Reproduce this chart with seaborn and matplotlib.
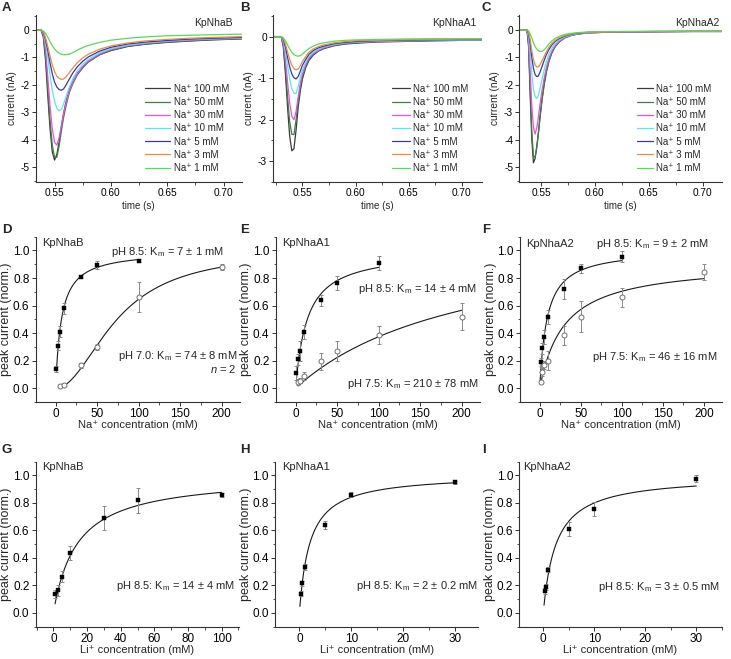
import numpy as np
import pandas as pd
import matplotlib
matplotlib.use("Agg")
import matplotlib.pyplot as plt
import seaborn as sns
from matplotlib.lines import Line2D
from matplotlib.ticker import MultipleLocator, FormatStrFormatter

# ---------------- data ----------------
conc_labels = ["Na\u207a 100 mM", "Na\u207a 50 mM", "Na\u207a 30 mM", "Na\u207a 10 mM",
               "Na\u207a 5 mM", "Na\u207a 3 mM", "Na\u207a 1 mM"]
trace_colors = ["#3a3a3a", "#3f7f3f", "#e84fe8", "#5ce6e6", "#3838a8", "#f08a40", "#5ad85a"]

# Panel A (KpNhaB) transient currents
time_A = [0.5335, 0.5380, 0.5400, 0.5420, 0.5440, 0.5460, 0.5480, 0.5500, 0.5520, 0.5540,
          0.5560, 0.5580, 0.5600, 0.5630, 0.5660, 0.5700, 0.5750, 0.5800, 0.5900, 0.6000,
          0.6150, 0.6300, 0.6500, 0.6700, 0.6900, 0.7165]
A_100 = [0, 0, -0.25, -1.1, -2.4, -3.6, -4.45, -4.75, -4.55, -4.1, -3.55, -3.05, -2.65, -2.2,
         -1.9, -1.6, -1.35, -1.15, -0.9, -0.75, -0.6, -0.52, -0.45, -0.4, -0.36, -0.32]
A_50 = [0, 0, -0.2, -0.9, -2.1, -3.3, -4.2, -4.65, -4.65, -4.25, -3.7, -3.2, -2.8, -2.3,
        -1.98, -1.65, -1.38, -1.17, -0.9, -0.74, -0.59, -0.51, -0.44, -0.39, -0.35, -0.32]
A_30 = [0, 0, -0.15, -0.7, -1.7, -2.8, -3.6, -4.1, -4.2, -3.95, -3.5, -3.05, -2.7, -2.25,
        -1.93, -1.6, -1.33, -1.13, -0.87, -0.71, -0.57, -0.49, -0.42, -0.37, -0.33, -0.3]
A_10 = [0, 0, -0.1, -0.45, -1.0, -1.65, -2.2, -2.6, -2.85, -2.95, -2.9, -2.7, -2.45, -2.1,
        -1.8, -1.5, -1.25, -1.07, -0.83, -0.68, -0.55, -0.47, -0.4, -0.35, -0.32, -0.29]
A_5 = [0, 0, -0.08, -0.35, -0.75, -1.2, -1.6, -1.9, -2.08, -2.17, -2.2, -2.15, -2.02, -1.8,
       -1.58, -1.35, -1.14, -0.98, -0.77, -0.63, -0.51, -0.44, -0.38, -0.33, -0.3, -0.27]
A_3 = [0, 0, -0.06, -0.28, -0.6, -0.95, -1.27, -1.52, -1.68, -1.76, -1.8, -1.79, -1.72, -1.56,
       -1.4, -1.2, -1.02, -0.88, -0.7, -0.58, -0.47, -0.4, -0.34, -0.3, -0.27, -0.24]
A_1 = [0, 0, -0.03, -0.12, -0.26, -0.42, -0.57, -0.69, -0.78, -0.84, -0.88, -0.9, -0.9, -0.88,
       -0.83, -0.74, -0.64, -0.56, -0.45, -0.37, -0.3, -0.25, -0.21, -0.19, -0.17, -0.15]

# Panel B (KpNhaA1)
time_B = [0.5223, 0.5300, 0.5320, 0.5340, 0.5360, 0.5380, 0.5400, 0.5420, 0.5440, 0.5460,
          0.5480, 0.5500, 0.5530, 0.5560, 0.5600, 0.5650, 0.5700, 0.5800, 0.5900, 0.6000,
          0.6200, 0.6400, 0.6700, 0.7000, 0.7189]
B_100 = [0, 0, -0.25, -0.9, -1.7, -2.4, -2.75, -2.7, -2.25, -1.7, -1.3, -1.02, -0.75, -0.58,
         -0.45, -0.35, -0.29, -0.22, -0.18, -0.16, -0.13, -0.12, -0.1, -0.09, -0.09]
B_50 = [0, 0, -0.2, -0.75, -1.45, -2.05, -2.35, -2.36, -2.0, -1.55, -1.2, -0.95, -0.71, -0.55,
        -0.43, -0.34, -0.28, -0.21, -0.17, -0.15, -0.12, -0.11, -0.1, -0.09, -0.09]
B_30 = [0, 0, -0.15, -0.55, -1.1, -1.6, -1.92, -2.0, -1.8, -1.45, -1.13, -0.9, -0.68, -0.52,
        -0.41, -0.33, -0.27, -0.2, -0.16, -0.14, -0.12, -0.1, -0.09, -0.08, -0.08]
B_10 = [0, 0, -0.1, -0.35, -0.7, -1.02, -1.25, -1.36, -1.37, -1.2, -0.98, -0.8, -0.62, -0.48,
        -0.38, -0.3, -0.25, -0.19, -0.15, -0.13, -0.11, -0.1, -0.09, -0.08, -0.08]
B_5 = [0, 0, -0.07, -0.25, -0.5, -0.73, -0.9, -0.99, -1.02, -0.96, -0.83, -0.69, -0.55, -0.43,
       -0.34, -0.27, -0.23, -0.17, -0.14, -0.12, -0.1, -0.09, -0.08, -0.07, -0.07]
B_3 = [0, 0, -0.05, -0.18, -0.37, -0.55, -0.69, -0.77, -0.8, -0.78, -0.7, -0.6, -0.48, -0.38,
       -0.3, -0.24, -0.2, -0.15, -0.12, -0.1, -0.09, -0.08, -0.07, -0.06, -0.06]
B_1 = [0, 0, -0.03, -0.1, -0.2, -0.3, -0.38, -0.43, -0.46, -0.47, -0.46, -0.42, -0.35, -0.29,
       -0.23, -0.18, -0.15, -0.11, -0.09, -0.08, -0.07, -0.06, -0.05, -0.05, -0.05]

# Panel C (KpNhaA2)
time_C = [0.5299, 0.5370, 0.5385, 0.5400, 0.5415, 0.5430, 0.5445, 0.5460, 0.5475, 0.5490,
          0.5510, 0.5530, 0.5550, 0.5575, 0.5600, 0.5630, 0.5670, 0.5720, 0.5780, 0.5850,
          0.5950, 0.6100, 0.6300, 0.6600, 0.6900, 0.7176]
C_100 = [0, 0, -0.6, -2.4, -4.0, -4.85, -4.7, -4.3, -3.8, -3.2, -2.5, -1.95, -1.5, -1.1,
         -0.83, -0.6, -0.42, -0.28, -0.19, -0.14, -0.1, -0.08, -0.07, -0.06, -0.05, -0.05]
C_50 = [0, 0, -0.5, -2.1, -3.7, -4.6, -4.65, -4.3, -3.8, -3.25, -2.55, -2.0, -1.55, -1.13,
        -0.85, -0.62, -0.43, -0.29, -0.2, -0.14, -0.1, -0.08, -0.07, -0.06, -0.05, -0.05]
C_30 = [0, 0, -0.35, -1.5, -2.8, -3.55, -3.8, -3.6, -3.2, -2.75, -2.2, -1.75, -1.37, -1.02,
        -0.78, -0.57, -0.4, -0.27, -0.19, -0.13, -0.1, -0.08, -0.07, -0.06, -0.05, -0.05]
C_10 = [0, 0, -0.2, -0.8, -1.6, -2.15, -2.42, -2.5, -2.4, -2.15, -1.8, -1.45, -1.15, -0.87,
        -0.67, -0.5, -0.36, -0.25, -0.17, -0.12, -0.09, -0.07, -0.06, -0.05, -0.05, -0.05]
C_5 = [0, 0, -0.12, -0.5, -1.0, -1.4, -1.62, -1.7, -1.68, -1.55, -1.33, -1.1, -0.9, -0.7,
       -0.55, -0.42, -0.31, -0.22, -0.15, -0.11, -0.08, -0.07, -0.06, -0.05, -0.05, -0.05]
C_3 = [0, 0, -0.08, -0.35, -0.75, -1.07, -1.27, -1.34, -1.35, -1.27, -1.12, -0.95, -0.79, -0.62,
       -0.49, -0.38, -0.28, -0.2, -0.14, -0.1, -0.08, -0.07, -0.06, -0.05, -0.05, -0.05]
C_1 = [0, 0, -0.03, -0.14, -0.3, -0.46, -0.6, -0.69, -0.75, -0.78, -0.78, -0.72, -0.63, -0.5,
       -0.4, -0.31, -0.23, -0.16, -0.12, -0.09, -0.07, -0.06, -0.05, -0.05, -0.04, -0.04]

# Panel D (Na+, KpNhaB)
D_x85 = [1, 3, 5, 10, 30, 50, 100]
D_y85 = [0.14, 0.31, 0.41, 0.58, 0.81, 0.895, 0.925]
D_e85 = [0.02, 0.03, 0.04, 0.04, 0.01, 0.03, 0.01]
D_x70 = [5, 10, 30, 50, 100, 200]
D_y70 = [0.015, 0.025, 0.165, 0.30, 0.66, 0.88]
D_e70 = [0.005, 0.01, 0.02, 0.02, 0.11, 0.02]
# Panel E (Na+, KpNhaA1)
E_x85 = [1, 3, 5, 10, 30, 50, 100]
E_y85 = [0.11, 0.21, 0.27, 0.41, 0.64, 0.765, 0.91]
E_e85 = [0.05, 0.04, 0.07, 0.05, 0.04, 0.05, 0.05]
E_x75 = [3, 5, 10, 30, 50, 100, 200]
E_y75 = [0.045, 0.055, 0.09, 0.195, 0.27, 0.385, 0.52]
E_e75 = [0.02, 0.02, 0.03, 0.06, 0.07, 0.065, 0.10]
# Panel F (Na+, KpNhaA2)
F_x85 = [1, 3, 5, 10, 30, 50, 100]
F_y85 = [0.19, 0.29, 0.37, 0.515, 0.72, 0.87, 0.955]
F_e85 = [0.03, 0.04, 0.05, 0.05, 0.07, 0.03, 0.04]
F_x75 = [1, 3, 5, 10, 30, 50, 100, 200]
F_y75 = [0.045, 0.12, 0.17, 0.20, 0.385, 0.52, 0.66, 0.845]
F_e75 = [0.01, 0.03, 0.03, 0.07, 0.07, 0.11, 0.07, 0.06]
# Panels G-I (Li+)
G_x = [1, 3, 5, 10, 30, 50, 100]
G_y = [0.14, 0.165, 0.265, 0.435, 0.69, 0.82, 0.86]
G_e = [0.03, 0.04, 0.04, 0.05, 0.09, 0.09, 0.015]
H_x = [0.25, 0.5, 1, 5, 10, 30]
H_y = [0.14, 0.215, 0.335, 0.64, 0.86, 0.95]
H_e = [0.02, 0.02, 0.02, 0.03, 0.02, 0.01]
I_x = [0.25, 0.5, 1, 5, 10, 30]
I_y = [0.16, 0.19, 0.315, 0.61, 0.755, 0.975]
I_e = [0.02, 0.02, 0.02, 0.05, 0.05, 0.025]

# Hill / Michaelis-Menten fit parameters (vmax, km, n, xmin, xmax)
fit_D85 = (1.0, 7, 1, 1, 100)
fit_D70 = (1.0, 74, 2, 5, 200)
fit_E85 = (1.0, 14, 1, 1, 100)
fit_E75 = (1.16, 210, 1, 3, 200)
fit_F85 = (1.01, 9, 1, 0.5, 100)
fit_F75 = (0.915, 30, 1, 1.5, 200)
fit_G = (1.0, 14, 1, 1, 100)
fit_H = (1.01, 2, 1, 0.1, 30)
fit_I = (1.0, 2.5, 1, 0.15, 30)

# ---------------- style ----------------
sns.set_theme(style="ticks")
plt.rcParams.update({
    "font.family": ["Liberation Sans", "DejaVu Sans"],
    "axes.unicode_minus": False,
    "mathtext.fontset": "custom",
    "mathtext.rm": "Liberation Sans",
    "mathtext.it": "Liberation Sans:italic",
    "mathtext.bf": "Liberation Sans:bold",
    "axes.edgecolor": "#333333",
    "axes.linewidth": 0.8,
    "xtick.color": "#333333",
    "ytick.color": "#333333",
    "xtick.labelcolor": "black",
    "ytick.labelcolor": "black",
})

W, H = 731, 659
fig = plt.figure(figsize=(W / 100, H / 100), dpi=100)


def make_ax(x0, x1, y0, y1):
    return fig.add_axes([x0 / W, 1 - y1 / H, (x1 - x0) / W, (y1 - y0) / H])


def style_ax(ax, fs, xmaj, xmin_, ymaj, ymin_, xfmt, yfmt):
    sns.despine(ax=ax)
    ax.xaxis.set_major_locator(MultipleLocator(xmaj))
    ax.xaxis.set_minor_locator(MultipleLocator(xmin_))
    ax.yaxis.set_major_locator(MultipleLocator(ymaj))
    ax.yaxis.set_minor_locator(MultipleLocator(ymin_))
    ax.xaxis.set_major_formatter(FormatStrFormatter(xfmt))
    ax.yaxis.set_major_formatter(FormatStrFormatter(yfmt))
    ax.tick_params(which="major", direction="out", length=3, width=0.7, pad=1.5, labelsize=fs)
    ax.tick_params(which="minor", direction="out", length=1.8, width=0.6)


def px(x, y):
    return x / W, 1 - y / H


# ---------------- row 1: traces ----------------
row1 = [
    ("KpNhaB", time_A, [A_100, A_50, A_30, A_10, A_5, A_3, A_1], (35.5, 242), (0.5331, 0.7163),
     (-5.55, 0.55), 233, 0.530, 2.6, 0.4),
    ("KpNhaA1", time_B, [B_100, B_50, B_30, B_10, B_5, B_3, B_1], (273, 482), (0.5223, 0.7189),
     (-3.5, 0.52), 476.7, 0.569, 1.9, 0.3),
    ("KpNhaA2", time_C, [C_100, C_50, C_30, C_10, C_5, C_3, C_1], (519.3, 721.7), (0.5299, 0.7176),
     (-5.55, 0.55), 720, 0.58, 1.7, 0.3),
]
for title, t, traces, (x0, x1), xl, yl, tx, lx, hl, htp in row1:
    ax = make_ax(x0, x1, 15, 182)
    frames = []
    for lab, vals in zip(conc_labels, traces):
        frames.append(pd.DataFrame({"time": t, "current": vals, "conc": lab}))
    df = pd.concat(frames, ignore_index=True)
    sns.lineplot(data=df, x="time", y="current", hue="conc", hue_order=conc_labels,
                 palette=dict(zip(conc_labels, trace_colors)), estimator=None, sort=False,
                 linewidth=0.9, legend=False, ax=ax)
    ax.set_xlim(*xl)
    ax.set_ylim(*yl)
    style_ax(ax, 7.3, 0.05, 0.025, 1, 0.5, "%.2f", "%g")
    ax.set_xlabel("time (s)", fontsize=7, labelpad=2)
    ax.set_ylabel("current (nA)", fontsize=7.3, labelpad=2.5)
    handles = [Line2D([0], [0], color=c, lw=0.9) for c in trace_colors]
    ax.legend(handles, conc_labels, loc="upper left", bbox_to_anchor=(lx, 0.588), frameon=False,
              fontsize=7, handlelength=hl, handletextpad=htp, labelspacing=0.33,
              borderpad=0, borderaxespad=0)
    fig.text(*px(tx, 23), title, fontsize=7.5, ha="right", va="center")


# ---------------- rows 2-3: kinetics ----------------
def hill_curve(ax, params):
    vmax, km, n, xmin, xmax = params
    xs = np.geomspace(xmin, xmax, 300)
    ys = vmax * xs ** n / (km ** n + xs ** n)
    sns.lineplot(x=xs, y=ys, color="#1a1a1a", linewidth=0.8, ax=ax, estimator=None, sort=False)


def points(ax, x, y, e, filled):
    ax.errorbar(x, y, yerr=e, fmt="none", ecolor="#8a8a8a", elinewidth=0.7, capsize=1.6,
                capthick=0.7, zorder=2)
    if filled:
        sns.scatterplot(x=x, y=y, marker="s", color="black", s=11, edgecolor="black",
                        linewidth=0.3, ax=ax, zorder=4)
    else:
        sns.scatterplot(x=x, y=y, marker="o", color="white", s=13, edgecolor="#707070",
                        linewidth=0.7, ax=ax, zorder=4)


fs_tick2 = 8.5
fs_ylab2 = 9
fs_xlab2 = 8
fs_ann = 8
na_panels = [
    ((35.7, 240), [(D_x85, D_y85, D_e85, True, fit_D85), (D_x70, D_y70, D_e70, False, fit_D70)]),
    ((275.7, 480), [(E_x85, E_y85, E_e85, True, fit_E85), (E_x75, E_y75, E_e75, False, fit_E75)]),
    ((520, 722), [(F_x85, F_y85, F_e85, True, fit_F85), (F_x75, F_y75, F_e75, False, fit_F75)]),
]
for (x0, x1), sets in na_panels:
    ax = make_ax(x0, x1, 236.7, 402)
    for xs, ys, es, filled, fit in sets:
        hill_curve(ax, fit)
        points(ax, xs, ys, es, filled)
    ax.set_xlim(-24, 222)
    ax.set_ylim(-0.1, 1.1)
    style_ax(ax, fs_tick2, 50, 25, 0.2, 0.1, "%d", "%.1f")
    ax.set_xlabel("Na\u207a concentration (mM)", fontsize=fs_xlab2, labelpad=0)
    ax.set_ylabel("peak current (norm.)", fontsize=fs_ylab2, labelpad=0.5)

li_panels = [
    ((35.7, 239.3), (-10.5, 110.5), 20, 10, G_x, G_y, G_e, fit_G),
    ((275, 478.3), (-4.7, 34.5), 10, 5, H_x, H_y, H_e, fit_H),
    ((519.3, 721.7), (-4.7, 35), 10, 5, I_x, I_y, I_e, fit_I),
]
for (x0, x1), xl, xmaj, xmn, xs, ys, es, fit in li_panels:
    ax = make_ax(x0, x1, 461.7, 626.7)
    hill_curve(ax, fit)
    points(ax, xs, ys, es, True)
    ax.set_xlim(*xl)
    ax.set_ylim(-0.1, 1.1)
    style_ax(ax, fs_tick2, xmaj, xmn, 0.2, 0.1, "%d", "%.1f")
    ax.set_xlabel("Li\u207a concentration (mM)", fontsize=fs_xlab2, labelpad=0)
    ax.set_ylabel("peak current (norm.)", fontsize=fs_ylab2, labelpad=0.5)

# annotations
km = "K$_\\mathrm{m}$"
annots = [
    ("KpNhaB", 41.7, 243.3, "left"),
    ("pH 8.5: " + km + " = 7 \u00b1 1 mM", 224, 251.7, "right"),
    ("pH 7.0: " + km + " = 74 \u00b1 8 mM", 237, 356, "right"),
    ("$n$ = 2", 237, 369.3, "right"),
    ("KpNhaA1", 281.7, 243.3, "left"),
    ("pH 8.5: " + km + " = 14 \u00b1 4 mM", 477, 289.3, "right"),
    ("pH 7.5: " + km + " = 210 \u00b1 78 mM", 479, 384, "right"),
    ("KpNhaA2", 526, 244, "left"),
    ("pH 8.5: " + km + " = 9 \u00b1 2 mM", 709, 244.3, "right"),
    ("pH 7.5: " + km + " = 46 \u00b1 16 mM", 717, 356.7, "right"),
    ("KpNhaB", 41.7, 466.7, "left"),
    ("pH 8.5: " + km + " = 14 \u00b1 4 mM", 235, 586, "right"),
    ("KpNhaA1", 281.7, 466.7, "left"),
    ("pH 8.5: " + km + " = 2 \u00b1 0.2 mM", 478, 586, "right"),
    ("KpNhaA2", 523, 466.7, "left"),
    ("pH 8.5: " + km + " = 3 \u00b1 0.5 mM", 720.7, 586.7, "right"),
]
for s, x, y, ha in annots:
    fig.text(*px(x, y), s, fontsize=fs_ann, ha=ha, va="center")

# panel letters
for lab, x, y in [("A", 2, 2), ("B", 240, 2), ("C", 482, 2),
                  ("D", 2, 224), ("E", 240, 224), ("F", 482, 224),
                  ("G", 2, 444), ("H", 240, 444), ("I", 482, 444)]:
    fig.text(*px(x, y), lab, fontsize=9.5, fontweight="bold", ha="left", va="top")

fig.savefig("out.png", dpi=100)
